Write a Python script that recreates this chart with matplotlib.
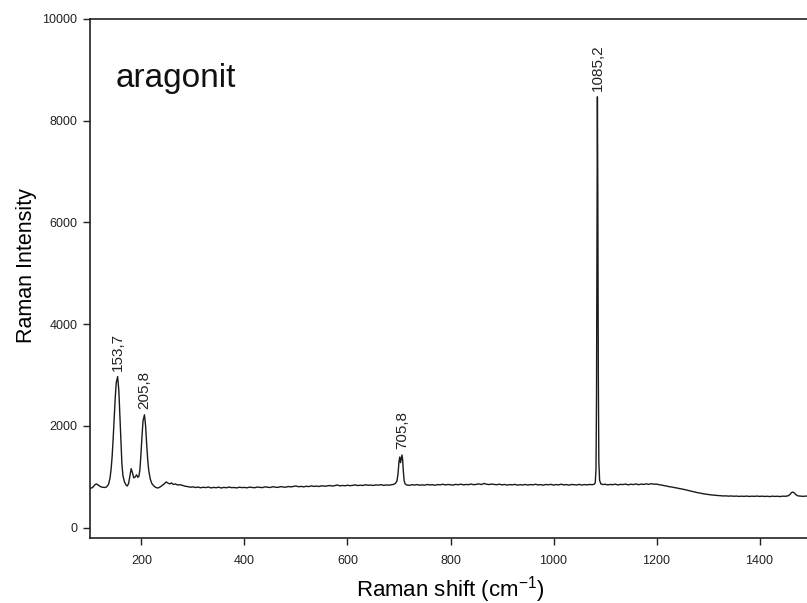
import numpy as np
import matplotlib.pyplot as plt

plt.rcParams['font.family'] = ['Liberation Sans', 'DejaVu Sans']
plt.rcParams['mathtext.fontset'] = 'custom'
plt.rcParams['mathtext.rm'] = 'Liberation Sans'

# spektrum (Raman shift cm-1, intenzita)
raman_shift = [
    100, 105, 110, 113, 117, 122, 128, 132, 136, 139, 141, 143, 145, 147, 149, 151,
    153.7, 156, 158, 160, 162, 164, 167, 170, 172.5, 175, 178, 180, 182.5, 185, 188,
    190.5, 193, 195, 197, 199, 201, 203, 205.8, 208, 210, 212, 214, 217, 220, 224,
    228, 232, 236, 240, 244, 248, 251, 255, 258, 262, 266, 270, 275, 280,
    285, 290, 295, 300, 305, 310, 315, 320, 325, 330, 335, 340, 345, 350, 355, 360,
    365, 370, 375, 380, 385, 390, 395, 400, 405, 410, 415, 420, 425, 430, 435, 440,
    445, 450, 455, 460, 465, 470, 475, 480, 485, 490, 495, 500, 505, 510, 515, 520,
    525, 530, 535, 540, 545, 550, 555, 560, 565, 570, 575, 580, 585, 590, 595, 600,
    605, 610, 615, 620, 625, 630, 635, 640, 645, 650, 655, 660, 665, 670, 675, 680,
    685, 689, 693, 696, 698, 700, 701.5, 703, 704.5, 705.8, 707, 708.5, 710, 712, 715,
    720, 725, 730, 735, 740, 745, 750, 755, 760, 765, 770, 775, 780, 785, 790, 795,
    800, 805, 810, 815, 820, 825, 830, 835, 840, 845, 850, 855, 860, 865, 870, 875,
    880, 885, 890, 895, 900, 905, 910, 915, 920, 925, 930, 935, 940, 945, 950, 955,
    960, 965, 970, 975, 980, 985, 990, 995, 1000, 1005, 1010, 1015, 1020, 1025, 1030,
    1035, 1040, 1045, 1050, 1055, 1060, 1065, 1070, 1075, 1079, 1081, 1082.5, 1083.5,
    1084.5, 1085.2, 1086, 1087, 1088, 1089.5, 1092, 1096, 1100, 1105, 1110, 1115, 1120,
    1125, 1130, 1135, 1140, 1145, 1150, 1155, 1160, 1165, 1170, 1175, 1180, 1185, 1190,
    1195, 1200, 1205, 1210, 1215, 1220, 1225, 1230, 1235, 1240, 1245, 1250, 1255, 1260,
    1265, 1270, 1275, 1280, 1285, 1290, 1295, 1300, 1305, 1310, 1315, 1320, 1325, 1330,
    1335, 1340, 1345, 1350, 1355, 1360, 1365, 1370, 1375, 1380, 1385, 1390, 1395, 1400,
    1405, 1410, 1415, 1420, 1425, 1430, 1435, 1440, 1445, 1450, 1455, 1459, 1462, 1465,
    1468, 1471, 1475, 1480, 1485, 1490, 1495, 1500,
]
intensity = [
    770, 790, 850, 860, 830, 800, 790, 800, 850, 980, 1150, 1400, 1750, 2150, 2550, 2850,
    2970, 2700, 2200, 1650, 1250, 1020, 900, 840, 820, 870, 1050, 1160, 1080, 980, 1000,
    1040, 990, 1010, 1150, 1450, 1800, 2100, 2220, 2000, 1650, 1350, 1130, 960, 870, 820,
    790, 780, 800, 830, 860, 900, 880, 860, 880, 850, 860, 840, 845, 830,
    815, 808, 796, 803, 790, 798, 785, 795, 788, 800, 782, 792, 786, 797, 780, 793,
    785, 799, 787, 790, 782, 796, 788, 792, 784, 798, 790, 786, 800, 792, 788, 803,
    795, 790, 806, 797, 792, 808, 800, 796, 810, 802, 812, 820, 805, 812, 803, 815,
    808, 822, 812, 818, 810, 825, 816, 820, 830, 818, 826, 840, 822, 830, 824, 835,
    826, 832, 842, 828, 836, 830, 845, 834, 838, 830, 842, 836, 846, 832, 840, 836,
    845, 850, 870, 920, 1050, 1300, 1390, 1280, 1360, 1430, 1340, 1100, 920, 860, 840,
    832, 845, 838, 848, 835, 842, 836, 850, 840, 846, 834, 848, 842, 855, 840, 850,
    845, 838, 852, 844, 856, 842, 850, 846, 858, 845, 852, 862, 848, 870, 855, 848,
    858, 850, 845, 856, 842, 850, 838, 848, 842, 852, 836, 846, 840, 850, 838, 848,
    842, 855, 840, 848, 836, 850, 844, 852, 838, 848, 842, 855, 840, 848, 836,
    850, 845, 840, 852, 838, 848, 842, 850, 845, 855, 880, 1150, 2600,
    6400, 8470, 6600, 3000, 1300, 930, 860, 848, 855, 842, 850, 846, 856,
    840, 852, 848, 858, 842, 855, 848, 860, 845, 858, 850, 862, 852, 866,
    855, 858, 845, 838, 826, 818, 805, 800, 788, 780, 768, 760, 748, 735,
    722, 712, 700, 688, 680, 668, 660, 652, 646, 640, 636, 632, 628, 624,
    626, 620, 624, 618, 622, 615, 620, 616, 622, 614, 620, 616, 622, 615,
    620, 614, 618, 612, 620, 615, 618, 612, 620, 618, 625, 650, 690, 700,
    680, 645, 625, 620, 616, 622, 618, 620,
]

peak_pos = [153.7, 205.8, 705.8, 1085.2]
peak_top = [2970, 2220, 1430, 8470]
peak_text = ['153,7', '205,8', '705,8', '1085,2']

fig = plt.figure(figsize=(8.07, 6.03), dpi=100)
ax = fig.add_axes([0.1115, 0.108, 0.8935, 0.8605])

ax.plot(raman_shift, intensity, color='#1a1a1a', lw=1.0)

for pos, top, txt in zip(peak_pos, peak_top, peak_text):
    ax.annotate(txt, (pos, top), xytext=(0, 4), textcoords='offset points',
                rotation=90, ha='center', va='bottom', fontsize=11, color='#222222')

ax.text(0.036, 0.869, 'aragonit', transform=ax.transAxes, fontsize=24,
        va='baseline', ha='left', color='#111111')

ax.set_xlim(100, 1500)
ax.set_ylim(-200, 10000)
ax.set_xticks([200, 400, 600, 800, 1000, 1200, 1400])
ax.set_yticks([0, 2000, 4000, 6000, 8000, 10000])

ax.spines['right'].set_visible(False)
for s in ['left', 'bottom', 'top']:
    ax.spines[s].set_linewidth(1.2)
    ax.spines[s].set_color('#222222')

ax.tick_params(axis='both', direction='out', length=5, width=1.0, labelsize=9,
               colors='#222222')
ax.tick_params(axis='x', pad=7)
ax.tick_params(axis='y', pad=4)

ax.set_xlabel('Raman shift (cm$^{\\mathregular{-1}}$)', fontsize=16)
ax.set_ylabel('Raman Intensity', fontsize=15.5)
ax.xaxis.set_label_coords(0.5, -0.069)
ax.yaxis.set_label_coords(-0.0735, 0.524)

fig.savefig('out.png', dpi=100)
